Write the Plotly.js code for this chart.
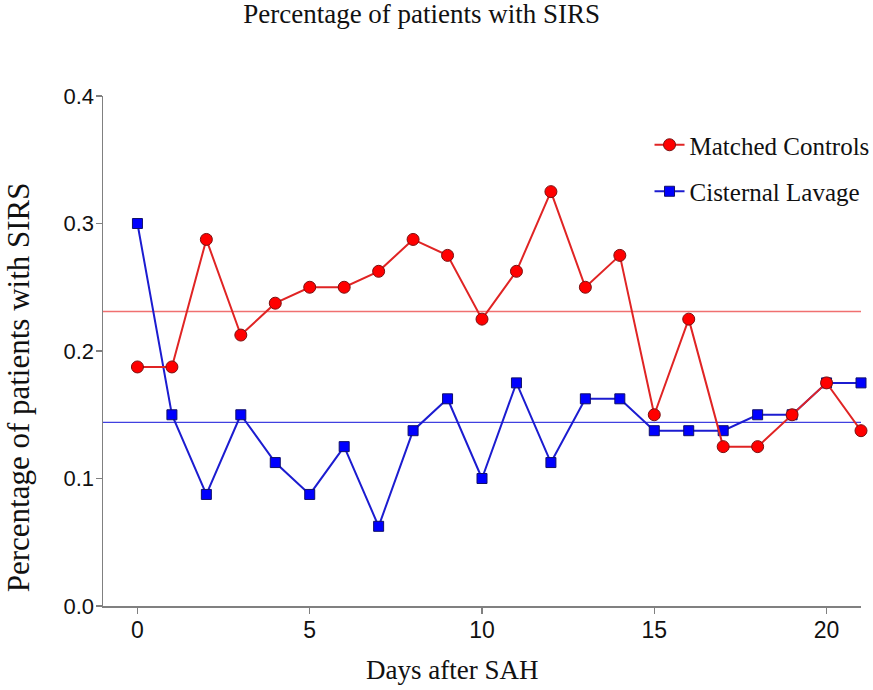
<!DOCTYPE html>
<html>
<head>
<meta charset="utf-8">
<script src="https://cdn.plot.ly/plotly-3.0.1.min.js"></script>
<style>html,body{margin:0;padding:0;background:#fff;}#chart{width:873px;height:690px;}</style>
</head>
<body>
<div id="chart"></div>
<script>
var days = [0,1,2,3,4,5,6,7,8,9,10,11,12,13,14,15,16,17,18,19,20,21];
var matchedControls = [0.1875,0.1875,0.2875,0.2125,0.2375,0.25,0.25,0.2625,0.2875,0.275,0.225,0.2625,0.325,0.25,0.275,0.15,0.225,0.125,0.125,0.15,0.175,0.1375];
var cisternalLavage = [0.30,0.15,0.0875,0.15,0.1125,0.0875,0.125,0.0625,0.1375,0.1625,0.10,0.175,0.1125,0.1625,0.1625,0.1375,0.1375,0.1375,0.15,0.15,0.175,0.175];
var meanControls = 0.231;
var meanLavage = 0.144;
var yTicks = [0, 0.1, 0.2, 0.3, 0.4];
var xTicks = [0, 5, 10, 15, 20];

var serif = 'Liberation Serif, Times New Roman, serif';
var sans = 'Liberation Sans, Arial, sans-serif';

var traces = [
  {
    x: days, y: cisternalLavage, name: 'Cisternal Lavage', type: 'scatter', mode: 'lines+markers',
    line: {color: '#1c1cd0', width: 2},
    marker: {symbol: 'square', size: 10, color: '#0000ff', line: {color: '#10106a', width: 1}},
    cliponaxis: false, legendgroup: 'b', legendrank: 2
  },
  {
    x: days, y: matchedControls, name: 'Matched Controls', type: 'scatter', mode: 'lines+markers',
    line: {color: '#e02424', width: 2},
    marker: {symbol: 'circle', size: 12, color: '#ff0000', line: {color: '#7a1010', width: 1}},
    cliponaxis: false, legendgroup: 'a', legendrank: 1
  }
];

var layout = {
  width: 873, height: 690,
  margin: {l: 103, r: 12, t: 96, b: 84, autoexpand: false},
  paper_bgcolor: '#fff', plot_bgcolor: '#fff',
  showlegend: true,
  title: {text: 'Percentage of patients with SIRS', font: {family: serif, size: 27, color: '#111'},
          x: 0.483, xanchor: 'center', xref: 'container', y: 0.981, yanchor: 'middle', yref: 'container'},
  xaxis: {
    range: [-1, 21], tickvals: xTicks, ticktext: xTicks.map(String),
    showgrid: false, zeroline: false, showline: true, linecolor: '#808080', linewidth: 1.5,
    ticks: 'outside', ticklen: 6, tickcolor: '#808080', tickwidth: 1.5,
    tickfont: {family: sans, size: 23, color: '#111'}, ticklabelstandoff: -3
  },
  yaxis: {
    range: [0, 0.4], tickvals: yTicks, ticktext: yTicks.map(function(v){return v.toFixed(1);}),
    showgrid: false, zeroline: false, showline: true, linecolor: '#808080', linewidth: 1.5,
    ticks: 'outside', ticklen: 6, tickcolor: '#808080', tickwidth: 1.5,
    tickfont: {family: sans, size: 22, color: '#111'}, ticklabelstandoff: -3
  },
  legend: {
    x: 0.721, y: 0.949, xanchor: 'left', yanchor: 'top',
    font: {family: serif, size: 25, color: '#111'},
    bgcolor: 'rgba(0,0,0,0)', traceorder: 'grouped', tracegroupgap: 11
  },
  shapes: [
    {type: 'line', xref: 'paper', x0: 0, x1: 1, yref: 'y', y0: meanControls, y1: meanControls,
     line: {color: '#f07070', width: 1.5}, layer: 'below'},
    {type: 'line', xref: 'paper', x0: 0, x1: 1, yref: 'y', y0: meanLavage, y1: meanLavage,
     line: {color: '#4040e0', width: 1.2}, layer: 'below'}
  ],
  annotations: [
    {text: 'Days after SAH', xref: 'paper', yref: 'paper', x: 0.46, y: -0.1255, xanchor: 'center', yanchor: 'middle',
     showarrow: false, font: {family: serif, size: 27, color: '#111'}},
    {text: 'Percentage of patients with SIRS', xref: 'paper', yref: 'paper', x: -0.112, y: 0.429, xanchor: 'center', yanchor: 'middle',
     textangle: -90, showarrow: false, font: {family: serif, size: 31, color: '#111'}}
  ]
};

Plotly.newPlot('chart', traces, layout, {displayModeBar: false, staticPlot: true});
</script>
</body>
</html>
